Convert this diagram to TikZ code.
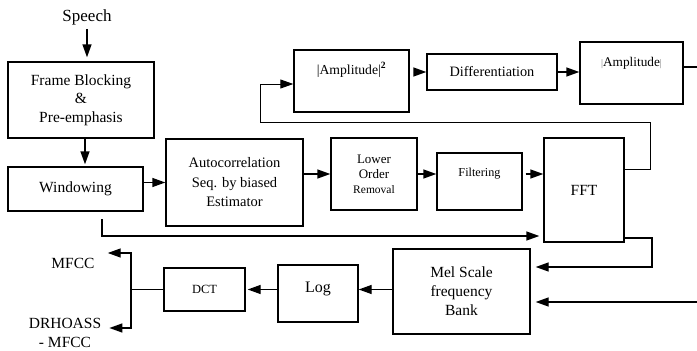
\documentclass[tikz,border=0pt]{standalone}
\usepackage{fontspec}
\setmainfont{Liberation Serif}
\usetikzlibrary{arrows.meta}

\begin{document}
\begin{tikzpicture}[
  x=1pt, y=-1pt,
  box/.style={rectangle, draw, line width=1.4pt, inner sep=0pt, align=center, font=\fontsize{15.5}{18.5}\selectfont},
  plain/.style={inner sep=0pt, align=center, font=\fontsize{15.5}{20}\selectfont},
  arrow/.style={-{Triangle[length=13pt,width=9pt]}, line width=1.4pt},
  link/.style={line width=1.4pt}
]
  \useasboundingbox (0,0) rectangle (697,351);

  % input and first column
  \node[plain, font=\fontsize{17}{20}\selectfont] (speech) at (87,17) {Speech};
  \node[box, minimum width=146pt, minimum height=76pt] (fb) at (81,100) {Frame Blocking\\\&\\Pre-emphasis};
  \node[box, minimum width=135pt, minimum height=44pt] (win) at (75.5,189) {Windowing};

  % middle row
  \node[box, minimum width=137pt, minimum height=87pt, font=\fontsize{14.5}{19.5}\selectfont] (ac) at (234.5,182.5) {Autocorrelation\\Seq. by biased\\Estimator};
  \node[box, minimum width=86pt, minimum height=72pt, font=\fontsize{13}{15}\selectfont] (lo) at (374,174) {Lower\\Order\\{\fontsize{11.5}{15}\selectfont Removal}};
  \node[box, minimum width=85pt, minimum height=57pt, text height=23pt, text depth=34pt, font=\fontsize{12.2}{14}\selectfont] (filt) at (479.5,181.5) {Filtering};
  \node[box, minimum width=80pt, minimum height=104pt] (fft) at (584,190) {FFT};

  % top row
  \node[box, minimum width=115pt, minimum height=62pt, text height=24pt, text depth=38pt, font=\fontsize{13.7}{16}\selectfont] (amp2) at (351.5,81) {|Amplitude|\textsuperscript{\textbf{2}}};
  \node[box, minimum width=130pt, minimum height=36pt, font=\fontsize{14.3}{17}\selectfont] (diff) at (492,72) {Differentiation};
  \node[box, minimum width=103pt, minimum height=62pt, text height=24pt, text depth=38pt, font=\fontsize{13.3}{16}\selectfont] (amp) at (631.5,73) {{\color{gray}\fontsize{10}{10}\selectfont|}Amplitude{\color{gray}\fontsize{10}{10}\selectfont|}};

  % bottom row
  \node[box, minimum width=137pt, minimum height=85pt, font=\fontsize{15.5}{19}\selectfont] (mel) at (461.5,291.5) {Mel Scale\\frequency\\Bank};
  \node[box, minimum width=80pt, minimum height=57pt, text height=27pt, text depth=30pt, font=\fontsize{16}{19}\selectfont] (log) at (318,293.5) {Log};
  \node[box, minimum width=81pt, minimum height=43pt, font=\fontsize{12.5}{15}\selectfont] (dct) at (204.5,289.5) {DCT};
  \node[plain] (mfcc) at (73,263) {MFCC};
  \node[plain, font=\fontsize{15.5}{19}\selectfont] (drh) at (65,333) {DRHOASS\\- MFCC};

  % helper points
  \coordinate (loopr) at (650,122);
  \coordinate (loopl) at (260,122);
  \coordinate (wtap) at (102,219);
  \coordinate (fftb) at (652,267);
  \coordinate (rt1) at (697,67);
  \coordinate (rt2) at (697,302);
  \coordinate (jt) at (131,253);
  \coordinate (jb) at (131,328);

  % connectors
  \draw[arrow] ([yshift=-4pt]speech.south) -- ([yshift=4pt]speech.south |- fb.north);
  \draw[arrow] ([xshift=4pt]fb.south) -- ([xshift=4pt,yshift=2pt]fb.south |- win.north);
  \draw[arrow] (win.east |- ac.west) -- (ac.west);
  \draw[arrow] (ac.east |- lo.west) -- (lo.west);
  \draw[arrow] (lo.east) -- (lo.east -| filt.west);
  \draw[arrow, shorten <=3pt] (filt.east |- lo.east) -- (fft.west |- lo.east);
  \draw[arrow, line width=1pt] ([yshift=21pt]fft.east) -| (loopr) -- (loopl) |- ([yshift=-3pt]amp2.west);
  \draw[arrow, shorten <=4pt] (amp2.east |- diff.west) -- (diff.west);
  \draw[arrow] (diff.east) -- (diff.east -| amp.west);
  \draw[link] ([yshift=6pt]amp.east) -- (rt1);
  \draw[arrow, shorten >=4pt] (wtap) |- ([yshift=-46pt]fft.west);
  \draw[arrow, shorten >=5pt] ([yshift=-48pt]fft.east) -| (fftb) -- (mel.east |- fftb);
  \draw[arrow, shorten >=5pt] (rt2) -- (mel.east |- rt2);
  \draw[arrow] (mel.west |- dct.east) -- (log.east |- dct.east);
  \draw[arrow, shorten >=2pt] (log.west |- dct.east) -- (dct.east);
  \draw[link] (dct.west) -- (dct.west -| jt);
  \draw[arrow, shorten >=13pt] (dct.west -| jt) -- (jt) -- (jt -| mfcc.east);
  \draw[arrow, shorten >=8pt] (dct.west -| jt) -- (jb) -- (jb -| drh.east);
\end{tikzpicture}
\end{document}
